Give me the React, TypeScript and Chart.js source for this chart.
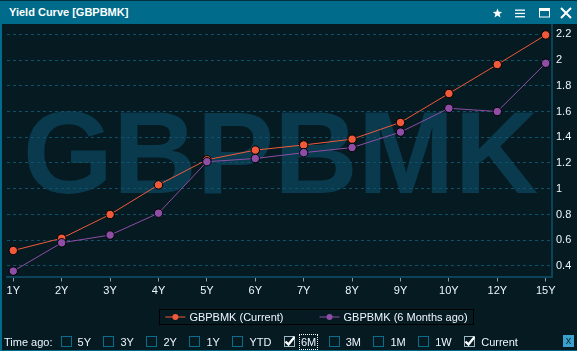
import React, { useEffect, useRef } from "react";
import { Chart, registerables } from "chart.js";

Chart.register(...registerables);

// ---------- data ----------
const categories = ["1Y", "2Y", "3Y", "4Y", "5Y", "6Y", "7Y", "8Y", "9Y", "10Y", "12Y", "15Y"];
const currentValues = [0.52, 0.615, 0.8, 1.03, 1.225, 1.3, 1.34, 1.385, 1.515, 1.74, 1.965, 2.195];
const sixMonthValues = [0.36, 0.58, 0.64, 0.81, 1.21, 1.235, 1.28, 1.32, 1.44, 1.625, 1.6, 1.975];
const yTicks = [0.4, 0.6, 0.8, 1.0, 1.2, 1.4, 1.6, 1.8, 2.0, 2.2];
const seriesNames = ["GBPBMK (Current)", "GBPBMK (6 Months ago)"];
const titleText = "Yield Curve [GBPBMK]";
const watermarkText = "GBPBMK";
const timeAgoLabel = "Time ago:";
const timeAgoOptions = ["5Y", "3Y", "2Y", "1Y", "YTD", "6M", "3M", "1M", "1W", "Current"];
const checkedOptions = ["6M", "Current"];
const focusedOption = "6M";

// ---------- styles ----------
const BG = "#061a22";
const TEAL = "#006b8b";
const GRID = "#105069";
const AXIS = "#0c4358";
const WATERMARK = "#093a4e";
const TEXT = "#eef6ff";
const CURRENT = "#f05a3a";
const SIXM = "#8e4ea6";
const FONT = '"Liberation Sans", Arial, sans-serif';

const watermarkPlugin = {
  id: "watermark",
  beforeDraw(chart: any) {
    const { ctx, chartArea } = chart;
    ctx.save();
    ctx.font = `bold 116px ${FONT}`;
    ctx.fillStyle = WATERMARK;
    ctx.textAlign = "center";
    ctx.textBaseline = "alphabetic";
    ctx.fillText(watermarkText, (chartArea.left + chartArea.right) / 2 + 1, chartArea.top + 169);
    ctx.restore();
  },
};

const boxLegendPlugin = {
  id: "boxLegend",
  afterDraw(chart: any) {
    const { ctx } = chart;
    ctx.save();
    ctx.font = `11px ${FONT}`;
    const symW = 20;
    const symGap = 4;
    const itemGap = 36;
    const items = chart.data.datasets.map((ds: any) => ({
      text: ds.label,
      color: ds.borderColor,
      w: symW + symGap + ctx.measureText(ds.label).width,
    }));
    const total = items.reduce((a: number, it: any) => a + it.w, 0) + itemGap * (items.length - 1);
    const cx = 316.5;
    const cy = 316.5;
    let x = cx - total / 2;
    ctx.strokeStyle = "#000000";
    ctx.lineWidth = 1;
    ctx.strokeRect(Math.round(x - 6) + 0.5, 309.5, Math.round(total + 12), 15);
    ctx.textBaseline = "middle";
    ctx.textAlign = "left";
    items.forEach((it: any) => {
      ctx.strokeStyle = it.color;
      ctx.lineWidth = 1;
      ctx.beginPath();
      ctx.moveTo(x, cy + 0.5);
      ctx.lineTo(x + symW, cy + 0.5);
      ctx.stroke();
      ctx.fillStyle = it.color;
      ctx.beginPath();
      ctx.arc(x + symW / 2, cy + 0.5, 3, 0, Math.PI * 2);
      ctx.fill();
      ctx.fillStyle = TEXT;
      ctx.fillText(it.text, x + symW + symGap, cy + 1);
      x += it.w + itemGap;
    });
    ctx.restore();
  },
};

function YieldChart() {
  const ref = useRef<HTMLCanvasElement | null>(null);
  useEffect(() => {
    if (!ref.current) return;
    const chart = new Chart(ref.current, {
      type: "line",
      data: {
        datasets: [
          {
            label: seriesNames[0],
            data: currentValues.map((y, i) => ({ x: i, y })),
            borderColor: CURRENT,
            backgroundColor: CURRENT,
            pointBackgroundColor: CURRENT,
            pointBorderColor: "#000000",
            pointBorderWidth: 1,
            pointRadius: 4.2,
            borderWidth: 1,
            order: 2,
          },
          {
            label: seriesNames[1],
            data: sixMonthValues.map((y, i) => ({ x: i, y })),
            borderColor: SIXM,
            backgroundColor: SIXM,
            pointBackgroundColor: SIXM,
            pointBorderColor: "#000000",
            pointBorderWidth: 1,
            pointRadius: 4.2,
            borderWidth: 1,
            order: 1,
          },
        ],
      },
      options: {
        responsive: false,
        animation: false,
        maintainAspectRatio: false,
        layout: { padding: { top: 24, left: 7, right: 0, bottom: 42.5 } },
        plugins: {
          legend: { display: false },
          tooltip: { enabled: false },
        },
        scales: {
          x: {
            type: "linear",
            min: -0.13,
            max: 11.13,
            afterBuildTicks: (s: any) => {
              s.ticks = categories.map((_, i) => ({ value: i }));
            },
            afterFit: (s: any) => {
              s.height = 32;
            },
            ticks: {
              callback: (v: any) => categories[v],
              color: TEXT,
              font: { size: 11, family: FONT },
              padding: 3,
              autoSkip: false,
              maxRotation: 0,
            },
            grid: {
              drawOnChartArea: false,
              drawTicks: true,
              tickLength: 5,
              tickColor: "#8a9ba3",
              tickWidth: 1,
            },
            border: { color: AXIS, width: 2 },
          },
          y: {
            position: "right",
            min: 0.318,
            max: 2.28,
            afterBuildTicks: (s: any) => {
              s.ticks = yTicks.map((v) => ({ value: v }));
            },
            afterFit: (s: any) => {
              s.width = 25;
            },
            ticks: {
              callback: (v: any) => String(Number(Number(v).toFixed(1))),
              color: TEXT,
              font: { size: 11, family: FONT },
              padding: 4,
            },
            grid: { color: GRID, drawTicks: false, lineWidth: 1 },
            border: { color: AXIS, width: 2, dash: [3, 3] },
          },
        },
      },
      plugins: [watermarkPlugin, boxLegendPlugin],
    } as any);
    return () => chart.destroy();
  }, []);
  return (
    <canvas
      ref={ref}
      width={577}
      height={351}
      style={{ position: "absolute", left: 0, top: 0, width: 577, height: 351 }}
    />
  );
}

function Checkbox({ checked }: { checked: boolean }) {
  return (
    <svg width={11} height={11} style={{ display: "block", flex: "none" }}>
      <rect x={0.5} y={0.5} width={10} height={10} fill="none" stroke={checked ? "#9fb8c4" : "#0a6d8e"} strokeWidth={1} />
      {checked && (
        <path d="M1.5 5.5 L4.5 8.5 L10.5 1" fill="none" stroke="#ffffff" strokeWidth={2.4} />
      )}
    </svg>
  );
}

export default function App() {
  return (
    <div
      style={{
        position: "fixed",
        left: 0,
        top: 0,
        width: 577,
        height: 351,
        background: BG,
        overflow: "hidden",
        fontFamily: FONT,
      }}
    >
      <YieldChart />
      {/* title bar */}
      <div
        style={{
          position: "absolute",
          left: 0,
          top: 0,
          width: 577,
          height: 24,
          background: TEAL,
          borderTop: "1px solid #03303f",
          boxSizing: "border-box",
        }}
      >
        <div
          style={{
            position: "absolute",
            left: 9,
            top: 5,
            color: "#ffffff",
            fontWeight: "bold",
            fontSize: 11,
            lineHeight: "13px",
            whiteSpace: "nowrap",
          }}
        >
          {titleText}
        </div>
        <svg width={577} height={24} style={{ position: "absolute", left: 0, top: -1 }}>
          <polygon
            points="497.5,8.5 498.8,11.8 502.2,11.9 499.6,14.1 500.5,17.5 497.5,15.6 494.5,17.5 495.4,14.1 492.8,11.9 496.2,11.8"
            fill="#ffffff"
          />
          <rect x={515} y={9.5} width={10} height={1.3} fill="#ffffff" />
          <rect x={515} y={12.8} width={10} height={1.3} fill="#ffffff" />
          <rect x={515} y={16.1} width={10} height={1.3} fill="#ffffff" />
          <rect x={539.5} y={8.5} width={10} height={8.5} fill="none" stroke="#ffffff" strokeWidth={1} />
          <rect x={539.5} y={8.5} width={10} height={2.5} fill="#ffffff" />
          <path d="M561 8 L571 18 M571 8 L561 18" stroke="#ffffff" strokeWidth={2} />
        </svg>
      </div>
      {/* left border */}
      <div style={{ position: "absolute", left: 0, top: 24, width: 2, height: 327, background: TEAL }} />
      {/* bottom border */}
      <div style={{ position: "absolute", left: 0, top: 350, width: 577, height: 1, background: TEAL }} />
      {/* time ago row */}
      <div
        style={{
          position: "absolute",
          left: 4,
          top: 333,
          height: 17,
          display: "flex",
          alignItems: "center",
          color: TEXT,
          fontSize: 11,
          whiteSpace: "nowrap",
        }}
      >
        <span style={{ marginRight: 8 }}>{timeAgoLabel}</span>
        {timeAgoOptions.map((opt) => (
          <React.Fragment key={opt}>
            <Checkbox checked={checkedOptions.includes(opt)} />
            <span
              style={{
                marginLeft: 6,
                marginRight: 12.5,
                outline: opt === focusedOption ? "1px dotted #ffffff" : "none",
                outlineOffset: 1,
              }}
            >
              {opt}
            </span>
          </React.Fragment>
        ))}
      </div>
      <div
        style={{
          position: "absolute",
          left: 563,
          top: 335,
          width: 11,
          height: 12,
          background: "#3aa2cc",
          color: "#0a2a36",
          fontSize: 11,
          lineHeight: "11px",
          textAlign: "center",
        }}
      >
        x
      </div>
    </div>
  );
}
